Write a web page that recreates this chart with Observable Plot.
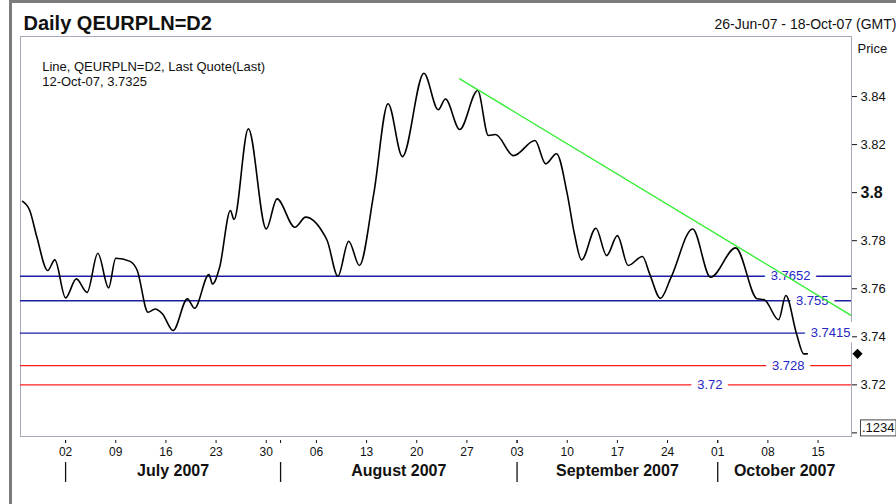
<!DOCTYPE html>
<html><head><meta charset="utf-8">
<script src="https://cdn.jsdelivr.net/npm/d3@7"></script>
<script src="https://cdn.jsdelivr.net/npm/@observablehq/plot@0.6"></script>
<style>
html,body{margin:0;padding:0;background:#fff;}
#wrap{position:relative;width:896px;height:504px;overflow:hidden;}
#wrap .barL{position:absolute;left:9px;top:0;width:3px;height:504px;background:#7c7c7c;}
#wrap .barT{position:absolute;left:9px;top:0;width:887px;height:3px;background:#7c7c7c;}
#wrap svg{position:absolute;left:0;top:0;}
</style></head><body><div id="wrap"><div class="barL"></div><div class="barT"></div></div>
<script>
// ---- data ----
const dates = [
"2007-06-26","2007-06-27","2007-06-28","2007-06-29T12:00Z","2007-06-30T12:00Z",
"2007-07-02","2007-07-03T12:00Z","2007-07-05","2007-07-06T12:00Z","2007-07-08",
"2007-07-09","2007-07-11","2007-07-12","2007-07-13T12:00Z","2007-07-14T12:00Z",
"2007-07-15T12:00Z","2007-07-17","2007-07-19","2007-07-20","2007-07-22",
"2007-07-22T12:00Z","2007-07-23T12:00Z","2007-07-25","2007-07-25T12:00Z","2007-07-27T12:00Z",
"2007-07-30","2007-07-31T12:00Z","2007-08-03","2007-08-04T12:00Z","2007-08-07",
"2007-08-07T12:00Z","2007-08-09","2007-08-10T12:00Z","2007-08-12","2007-08-14",
"2007-08-16","2007-08-18","2007-08-21","2007-08-23","2007-08-24",
"2007-08-26","2007-08-28T12:00Z","2007-08-30","2007-08-31","2007-09-02T12:00Z",
"2007-09-05T12:00Z","2007-09-07","2007-09-08T12:00Z","2007-09-10","2007-09-11",
"2007-09-12","2007-09-14","2007-09-15T12:00Z","2007-09-17","2007-09-18T12:00Z",
"2007-09-20T12:00Z","2007-09-21T12:00Z","2007-09-23","2007-09-24T12:00Z","2007-09-27T12:00Z",
"2007-09-30","2007-10-03T12:00Z","2007-10-06T12:00Z","2007-10-07T12:00Z","2007-10-09T12:00Z",
"2007-10-10T12:00Z","2007-10-12","2007-10-13","2007-10-13T12:00Z"
];
const prices = [
3.7964,3.7926,3.7814,3.7676,3.7720,
3.7562,3.7641,3.7585,3.7748,3.7604,
3.7727,3.7714,3.7676,3.7502,3.7516,
3.7496,3.7426,3.7558,3.7519,3.7659,
3.7620,3.7690,3.7926,3.7888,3.8266,
3.7849,3.7974,3.7856,3.7898,3.7829,
3.7801,3.7652,3.7798,3.7697,3.7995,
3.8370,3.8150,3.8497,3.8345,3.8390,
3.8263,3.8425,3.8238,3.8242,3.8154,
3.8217,3.8120,3.8162,3.7995,3.7829,
3.7720,3.7852,3.7738,3.7821,3.7697,
3.7734,3.7662,3.7560,3.7648,3.7849,
3.7648,3.7770,3.7558,3.7554,3.7471,
3.7572,3.7412,3.7329,3.7329
];
const trendDates = ["2007-08-26","2007-10-20"];
const trendValues = [3.8474,3.7482];
const blueLevels = [3.7652,3.755,3.7415];
const redLevels = [3.728,3.72];
const lastQuote = 3.7329;

const weekTicks = ["2007-07-02","2007-07-09","2007-07-16","2007-07-23","2007-07-30","2007-08-06","2007-08-13","2007-08-20","2007-08-27","2007-09-03","2007-09-10","2007-09-17","2007-09-24","2007-10-01","2007-10-08","2007-10-15"];
const weekLabels = ["02","09","16","23","30","06","13","20","27","03","10","17","24","01","08","15"];
const monthStarts = ["2007-07-02","2007-08-01","2007-09-03","2007-10-01"];
const monthNames = ["July 2007","August 2007","September 2007","October 2007"];
const yTicks = [3.72,3.74,3.76,3.78,3.8,3.82,3.84];
const yTickLabels = ["3.72","3.74","3.76","3.78","3.8","3.82","3.84"];
const boxTick = 3.70, boxTickLabel = ".1234";

const title = "Daily QEURPLN=D2";
const rangeText = "26-Jun-07 - 18-Oct-07 (GMT)";
const legend1 = "Line, QEURPLN=D2, Last Quote(Last)";
const legend2 = "12-Oct-07, 3.7325";
const priceLabel = "Price";

// ---- layout / style ----
const FONT = '"Liberation Sans", Arial, Helvetica, sans-serif';
const BLUE = "#1c1ca6", BLUE_TEXT = "#2626c4", RED = "#ff1c1c", GREEN = "#36ee36";
const xDomain = [new Date("2007-06-25T17:00Z"), new Date("2007-10-19T16:00Z")];
const yDomain = [3.6985, 3.865];
const blueLabelDx = [-41, -23, -1];
const redLabelDx = [-47, -129];

const series = dates.map((d, i) => ({date: new Date(d), price: prices[i]}));
const trend = trendDates.map((d, i) => ({date: new Date(d), price: trendValues[i]}));
const wk = weekTicks.map(d => new Date(d));
const wkLabel = new Map(wk.map((d, i) => [+d, weekLabels[i]]));
const ms = monthStarts.map(d => new Date(d));
const monthCenters = ms.map((d, i) => new Date((+d + +(i + 1 < ms.length ? ms[i + 1] : xDomain[1])) / 2));
const months = monthNames.map((n, i) => ({name: n, date: monthCenters[i]}));
const yLabel = new Map(yTicks.map((v, i) => [v, yTickLabels[i]]));

const levelLabel = (v, dx, fill) => Plot.text([v], {
  y: d => d, text: d => String(d), frameAnchor: "right", dx, textAnchor: "end",
  fill, stroke: "white", strokeWidth: 13, fontSize: 13
});

const plot = Plot.plot({
  width: 896, height: 504,
  marginLeft: 20, marginRight: 45, marginTop: 36, marginBottom: 68,
  style: {fontFamily: FONT, fontSize: "13px", color: "#111", background: "transparent", overflow: "visible"},
  x: {type: "utc", domain: xDomain, axis: null, label: null},
  y: {domain: yDomain, axis: null, label: null},
  marks: [
    Plot.frame({stroke: "#a8a8bc"}),
    Plot.ruleY(blueLevels, {stroke: BLUE, strokeWidth: 1.3}),
    Plot.ruleY(redLevels, {stroke: RED, strokeWidth: 1.3}),
    ...blueLevels.map((v, i) => levelLabel(v, blueLabelDx[i], BLUE_TEXT)),
    ...redLevels.map((v, i) => levelLabel(v, redLabelDx[i], BLUE_TEXT)),
    Plot.line(series, {x: "date", y: "price", curve: "monotone-x", stroke: "#000", strokeWidth: 1.6}),
    Plot.line(trend, {x: "date", y: "price", stroke: GREEN, strokeWidth: 1.4, clip: true}),
    Plot.dot([lastQuote], {y: d => d, frameAnchor: "right", dx: 6, symbol: "diamond2", r: 4.6, fill: "#000", stroke: null}),
    // right price axis
    Plot.axisY(yTicks.filter(v => v !== 3.8), {anchor: "right", tickSize: 5, tickPadding: 4, fontSize: 13, label: null, tickFormat: v => yLabel.get(v)}),
    Plot.axisY([3.8], {anchor: "right", tickSize: 5, tickPadding: 4, fontSize: 16, fontWeight: "bold", label: null, tickFormat: v => yLabel.get(v)}),
    Plot.axisY([boxTick], {anchor: "right", tickSize: 5, label: null, tickFormat: () => ""}),
    Plot.text([boxTickLabel], {y: () => boxTick, frameAnchor: "right", dx: 10.5, textAnchor: "start", lineAnchor: "bottom", dy: -0.5, fontSize: 13}),
    // time axis
    Plot.axisX(wk, {anchor: "bottom", tickSize: 3, tickPadding: 3.5, dy: 4, fontSize: 12, label: null, tickFormat: d => wkLabel.get(+d) ?? ""}),
    Plot.axisX(ms, {anchor: "bottom", tickSize: 3, dy: 4, label: null, tickFormat: () => ""}),
    Plot.axisX(ms, {anchor: "bottom", tickSize: 20, dy: 26, strokeWidth: 1.3, label: null, tickFormat: () => ""}),
    Plot.text(months, {x: "date", text: "name", frameAnchor: "bottom", dy: 39, lineAnchor: "bottom", fontSize: 16, fontWeight: "bold"}),
    // header texts
    Plot.text([title], {frameAnchor: "top-left", dx: 3, dy: -7, textAnchor: "start", lineAnchor: "bottom", fontSize: 20, fontWeight: "bold"}),
    Plot.text([rangeText], {frameAnchor: "top-right", dx: 45, dy: -7.5, textAnchor: "end", lineAnchor: "bottom", fontSize: 14}),
    Plot.text([priceLabel], {frameAnchor: "top-right", dx: 6, dy: 16.5, textAnchor: "start", lineAnchor: "bottom", fontSize: 13}),
    Plot.text([legend1], {frameAnchor: "top-left", dx: 21.7, dy: 34.7, textAnchor: "start", lineAnchor: "bottom", fontSize: 13}),
    Plot.text([legend2], {frameAnchor: "top-left", dx: 21.7, dy: 49.5, textAnchor: "start", lineAnchor: "bottom", fontSize: 13})
  ]
});
document.getElementById("wrap").appendChild(plot);

// box around the placeholder label, sized from the rendered text (same transform as the text)
const svg = d3.select(plot);
svg.selectAll("text").filter(function() { return this.textContent === boxTickLabel; }).each(function() {
  const b = this.getBBox();
  const node = this;
  d3.select(node.parentNode).insert("rect", () => node)
    .attr("transform", node.getAttribute("transform"))
    .attr("x", b.x - 1.5).attr("y", b.y - 0.5).attr("width", b.width + 3).attr("height", b.height + 1)
    .attr("fill", "white").attr("stroke", "#444").attr("stroke-width", 1);
});
</script>
</body></html>
